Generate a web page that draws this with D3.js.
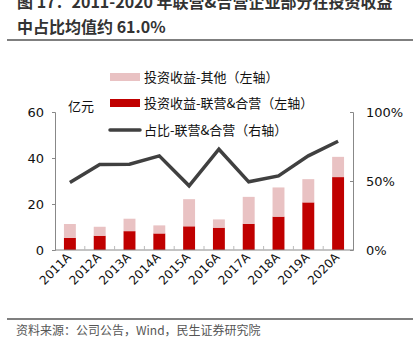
<!DOCTYPE html>
<html>
<head>
<meta charset="utf-8">
<script src="https://cdn.jsdelivr.net/npm/d3@7"></script>
<style>
  body { margin: 0; background: #fff; }
  text { font-family: "Noto Sans CJK SC", "Noto Sans", sans-serif; }
</style>
</head>
<body>
<div id="chart"></div>
<script>
const years = ["2011A","2012A","2013A","2014A","2015A","2016A","2017A","2018A","2019A","2020A"];
const jointValues = [5.3, 6.2, 8.2, 7.2, 10.3, 9.7, 11.4, 14.5, 20.7, 31.7];
const otherValues = [6.0, 3.9, 5.4, 3.5, 11.8, 3.6, 11.7, 12.7, 10.1, 8.8];
const shareValues = [49, 62, 62.2, 68.2, 46.5, 73, 49.4, 53.7, 68.2, 78.8];
const leftTicks = [0, 20, 40, 60];
const rightTicks = [0, 50, 100];
const legendNames = ["投资收益-其他（左轴）", "投资收益-联营&合营（左轴）", "占比-联营&合营（右轴）"];

const W = 417, H = 352;
const margin = { top: 112, right: 64, bottom: 102, left: 55 };
const width = W - margin.left - margin.right;
const height = H - margin.top - margin.bottom;

const svg = d3.select("#chart").append("svg")
    .attr("width", W)
    .attr("height", H);

// title (first line is cut off at the top, like the source)
svg.append("text").attr("x", 17).attr("y", 8)
    .attr("font-size", 16).attr("font-weight", "bold").attr("fill", "#333")
    .text("图 17：2011-2020 年联营&合营企业部分在投资收益");
svg.append("text").attr("x", 17).attr("y", 33)
    .attr("font-size", 16).attr("font-weight", "bold").attr("fill", "#333")
    .text("中占比均值约 61.0%");
svg.append("line").attr("x1", 7).attr("x2", 413).attr("y1", 40).attr("y2", 40)
    .attr("stroke", "#555").attr("stroke-width", 1.5);

const g = svg.append("g").attr("transform", `translate(${margin.left},${margin.top})`);

const x = d3.scaleBand().domain(years).range([0, width]).paddingInner(0.6).paddingOuter(0.3);
const yL = d3.scaleLinear().domain([0, 60]).range([height, 0]);
const yR = d3.scaleLinear().domain([0, 100]).range([height, 0]);

// stacked bars
g.selectAll(".bar-joint").data(years).enter().append("rect")
    .attr("class", "bar-joint")
    .attr("x", d => x(d))
    .attr("width", x.bandwidth())
    .attr("y", (d, i) => yL(jointValues[i]))
    .attr("height", (d, i) => height - yL(jointValues[i]))
    .attr("fill", "#C00000");

g.selectAll(".bar-other").data(years).enter().append("rect")
    .attr("class", "bar-other")
    .attr("x", d => x(d))
    .attr("width", x.bandwidth())
    .attr("y", (d, i) => yL(jointValues[i] + otherValues[i]))
    .attr("height", (d, i) => yL(jointValues[i]) - yL(jointValues[i] + otherValues[i]))
    .attr("fill", "#E9C2C3");

// line
const line = d3.line()
    .x((d, i) => x(years[i]) + x.bandwidth() / 2)
    .y(d => yR(d));
g.append("path").datum(shareValues)
    .attr("d", line)
    .attr("fill", "none")
    .attr("stroke", "#404040")
    .attr("stroke-width", 3.5)
    .attr("stroke-linejoin", "miter");

// axes
const yAxisL = d3.axisLeft(yL).tickValues(leftTicks).tickSize(3).tickPadding(8);
const yAxisR = d3.axisRight(yR).tickValues(rightTicks).tickFormat(d => d + "%").tickSize(-3).tickPadding(13);

const gl = g.append("g").attr("class", "y-axis").call(yAxisL);
const gr = g.append("g").attr("class", "y-axis-r").attr("transform", `translate(${width},0)`).call(yAxisR);
[gl, gr].forEach(a => {
    a.select(".domain").attr("stroke", "#888");
    a.selectAll(".tick line").attr("stroke", "#888");
    a.selectAll(".tick text").attr("font-size", 13).attr("fill", "#111")
        .style("font-family", "'DejaVu Sans', sans-serif");
});

// x axis baseline and ticks at band boundaries
g.append("line").attr("x1", 0).attr("x2", width).attr("y1", height).attr("y2", height)
    .attr("stroke", "#888");
const step = x.step();
g.selectAll(".x-tick").data(d3.range(1, years.length)).enter().append("line")
    .attr("class", "x-tick")
    .attr("x1", i => x(years[i]) - (step - x.bandwidth()) / 2)
    .attr("x2", i => x(years[i]) - (step - x.bandwidth()) / 2)
    .attr("y1", height).attr("y2", height - 4)
    .attr("stroke", "#bbb");

g.selectAll(".x-label").data(years).enter().append("text")
    .attr("class", "x-label")
    .attr("transform", d => `translate(${x(d) + x.bandwidth() / 2 + 2},${height + 8}) rotate(-45)`)
    .attr("text-anchor", "end")
    .attr("font-size", 12)
    .attr("fill", "#111")
    .style("font-family", "'DejaVu Sans', sans-serif")
    .text(d => d);

// unit label
g.append("text").attr("x", 13).attr("y", -1)
    .attr("font-size", 13).attr("fill", "#111").text("亿元");

// legend
const legend = svg.append("g").attr("transform", "translate(110,0)");
const legendY = [77, 103, 130];
legend.append("rect").attr("x", 0).attr("y", legendY[0] - 4).attr("width", 30).attr("height", 8).attr("fill", "#E9C2C3");
legend.append("rect").attr("x", 0).attr("y", legendY[1] - 4).attr("width", 30).attr("height", 8).attr("fill", "#C00000");
legend.append("line").attr("x1", 0).attr("x2", 30).attr("y1", legendY[2]).attr("y2", legendY[2])
    .attr("stroke", "#404040").attr("stroke-width", 3.5).attr("stroke-linecap", "round");
legendNames.forEach((name, i) => {
    legend.append("text").attr("x", 34).attr("y", legendY[i])
        .attr("dy", "0.36em").attr("font-size", 13).attr("fill", "#111").text(name);
});

// footer
svg.append("line").attr("x1", 7).attr("x2", 413).attr("y1", 319).attr("y2", 319)
    .attr("stroke", "#555").attr("stroke-width", 1.5);
svg.append("text").attr("x", 16).attr("y", 335)
    .attr("font-size", 12).attr("fill", "#555")
    .text("资料来源：公司公告，Wind，民生证券研究院");
</script>
</body>
</html>
